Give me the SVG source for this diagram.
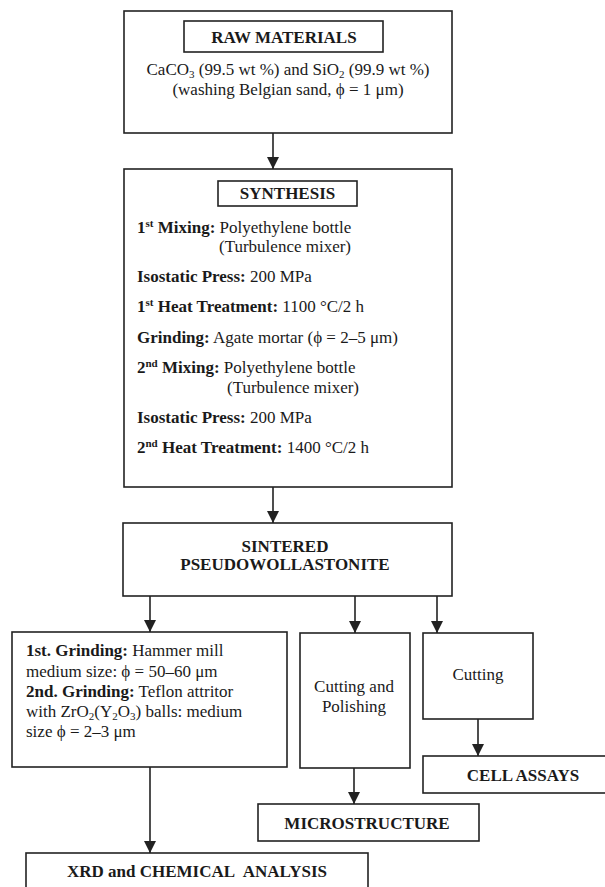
<svg xmlns="http://www.w3.org/2000/svg" width="605" height="887" viewBox="0 0 605 887">
<style>
.box{fill:#fff;stroke:#222;stroke-width:1.6}
.t{font-family:"Liberation Serif","Times New Roman",serif;font-size:17px;fill:#1a1a1a}
.b{font-weight:bold}
.c{text-anchor:middle}
.con{stroke:#222;stroke-width:1.6;fill:none}
</style>
<defs>
<marker id="ah" markerUnits="userSpaceOnUse" markerWidth="12" markerHeight="14" refX="12" refY="6" orient="auto" viewBox="0 0 12 12">
<path d="M0,0 L12,6 L0,12 z" fill="#222"/>
</marker>
</defs>
<rect width="605" height="887" fill="#fff"/>
<g id="raw">
<rect class="box" x="124" y="11" width="328" height="122"/>
<rect class="box" x="184" y="21" width="199" height="31"/>
<text class="t b c" x="284" y="43">RAW MATERIALS</text>
<text class="t c" x="288" y="75">CaCO<tspan font-size="11" dy="3">3</tspan><tspan dy="-3"> (99.5 wt %) and SiO</tspan><tspan font-size="11" dy="3">2</tspan><tspan dy="-3"> (99.9 wt %)</tspan></text>
<text class="t c" x="288" y="95">(washing Belgian sand, ϕ = 1 μm)</text>
</g>
<g id="synthesis">
<rect class="box" x="124" y="169" width="328" height="318"/>
<rect class="box" x="218" y="181" width="139" height="25"/>
<text class="t b c" x="287.5" y="199">SYNTHESIS</text>
<text class="t" x="137" y="233"><tspan class="b">1<tspan font-size="11" dy="-6">st</tspan><tspan dy="6"> Mixing:</tspan></tspan> Polyethylene bottle</text>
<text class="t" x="219" y="252">(Turbulence mixer)</text>
<text class="t" x="137" y="282"><tspan class="b">Isostatic Press:</tspan> 200 MPa</text>
<text class="t" x="137" y="312"><tspan class="b">1<tspan font-size="11" dy="-6">st</tspan><tspan dy="6"> Heat Treatment:</tspan></tspan> 1100 °C/2 h</text>
<text class="t" x="137" y="343"><tspan class="b">Grinding:</tspan> Agate mortar (ϕ = 2–5 μm)</text>
<text class="t" x="137" y="373"><tspan class="b">2<tspan font-size="11" dy="-6">nd</tspan><tspan dy="6"> Mixing:</tspan></tspan> Polyethylene bottle</text>
<text class="t" x="227" y="393">(Turbulence mixer)</text>
<text class="t" x="137" y="423"><tspan class="b">Isostatic Press:</tspan> 200 MPa</text>
<text class="t" x="137" y="453"><tspan class="b">2<tspan font-size="11" dy="-6">nd</tspan><tspan dy="6"> Heat Treatment:</tspan></tspan> 1400 °C/2 h</text>
</g>
<g id="sintered">
<rect class="box" x="123" y="523" width="329" height="73"/>
<text class="t b c" x="285" y="552">SINTERED</text>
<text class="t b c" x="285" y="570">PSEUDOWOLLASTONITE</text>
</g>
<g id="grinding">
<rect class="box" x="12" y="632" width="275" height="135"/>
<text class="t" x="26" y="656"><tspan class="b">1st. Grinding:</tspan> Hammer mill</text>
<text class="t" x="26" y="677">medium size: ϕ = 50–60 μm</text>
<text class="t" x="26" y="697"><tspan class="b">2nd. Grinding:</tspan> Teflon attritor</text>
<text class="t" x="26" y="717">with ZrO<tspan font-size="11" dy="3">2</tspan><tspan dy="-3">(Y</tspan><tspan font-size="11" dy="3">2</tspan><tspan dy="-3">O</tspan><tspan font-size="11" dy="3">3</tspan><tspan dy="-3">) balls: medium</tspan></text>
<text class="t" x="26" y="737">size ϕ = 2–3 μm</text>
</g>
<g id="polishing">
<rect class="box" x="300" y="633" width="110" height="135"/>
<text class="t c" x="354" y="692">Cutting and</text>
<text class="t c" x="354" y="712">Polishing</text>
</g>
<g id="cutting">
<rect class="box" x="423" y="633" width="110" height="86"/>
<text class="t c" x="478" y="680">Cutting</text>
</g>
<g id="cellassays">
<rect class="box" x="423" y="756" width="190" height="37"/>
<text class="t b c" x="523" y="781">CELL ASSAYS</text>
</g>
<g id="microstructure">
<rect class="box" x="258" y="804" width="221" height="37"/>
<text class="t b c" x="367" y="829">MICROSTRUCTURE</text>
</g>
<g id="xrd">
<rect class="box" x="26" y="853" width="342" height="50"/>
<text class="t b c" x="197" y="877">XRD and CHEMICAL&#160; ANALYSIS</text>
</g>
<g id="connectors">
<line class="con" x1="273" y1="133" x2="273" y2="169" marker-end="url(#ah)"/>
<line class="con" x1="273" y1="487" x2="273" y2="523" marker-end="url(#ah)"/>
<line class="con" x1="150" y1="596" x2="150" y2="632" marker-end="url(#ah)"/>
<line class="con" x1="355" y1="596" x2="355" y2="633" marker-end="url(#ah)"/>
<line class="con" x1="437" y1="596" x2="437" y2="633" marker-end="url(#ah)"/>
<line class="con" x1="478" y1="719" x2="478" y2="756" marker-end="url(#ah)"/>
<line class="con" x1="354" y1="768" x2="354" y2="804" marker-end="url(#ah)"/>
<line class="con" x1="150" y1="767" x2="150" y2="853" marker-end="url(#ah)"/>
</g>
</svg>
